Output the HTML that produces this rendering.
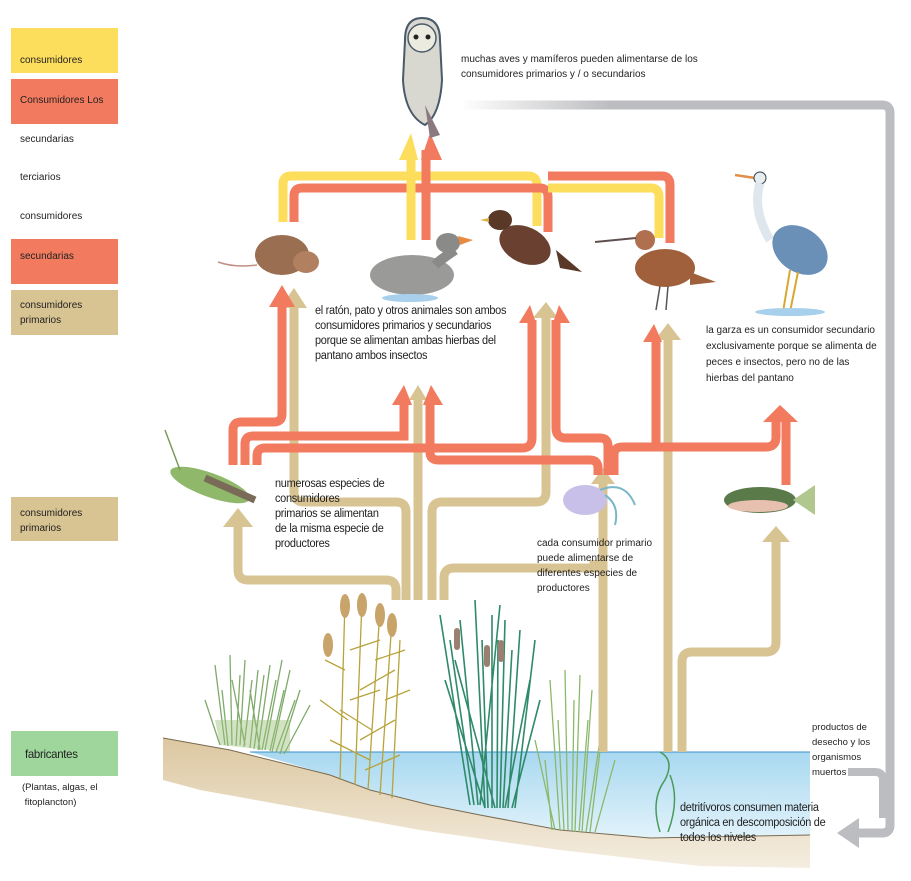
<!DOCTYPE html>
<html><head><meta charset="utf-8">
<style>
body{margin:0;background:#fff;width:911px;height:881px;overflow:hidden;font-family:"Liberation Sans",sans-serif;}
.box{position:absolute;left:11px;width:107px;height:45px;font-size:10px;color:#222;}
.t{position:absolute;font-size:10px;color:#222;line-height:15px;}
.c{position:absolute;font-size:11.5px;color:#222;line-height:15px;letter-spacing:-0.3px;transform:scaleX(0.95);transform-origin:left;}
</style></head><body>
<svg width="911" height="881" style="position:absolute;left:0;top:0">
<defs>
<linearGradient id="g1" x1="0" x2="1"><stop offset="0" stop-color="#fff"/><stop offset="0.35" stop-color="#bcbdc0"/></linearGradient>
<linearGradient id="g2" x1="0" x2="1"><stop offset="0" stop-color="#fff"/><stop offset="0.6" stop-color="#bcbdc0"/></linearGradient>
<linearGradient id="wat" x1="0" y1="0" x2="0" y2="1"><stop offset="0" stop-color="#a8d8f0"/><stop offset="1" stop-color="#e2f3fb"/></linearGradient>
<linearGradient id="snd" x1="0" y1="0" x2="0" y2="1"><stop offset="0" stop-color="#dcc7a0"/><stop offset="1" stop-color="#f4ede0"/></linearGradient>
</defs>
<rect x="11" y="28" width="107" height="45" fill="#fddd5c"/>
<rect x="11" y="79" width="107" height="45" fill="#f27a5e"/>
<rect x="11" y="239" width="107" height="45" fill="#f27a5e"/>
<rect x="11" y="290" width="107" height="45" fill="#d8c393"/>
<rect x="11" y="497" width="107" height="44" fill="#d8c393"/>
<rect x="11" y="731" width="107" height="45" fill="#9fd69c"/>

<path d="M460,105 H882 Q890,105 890,113 V825 Q890,833 882,833 H855" fill="none" stroke="url(#g1)" stroke-width="9"/>
<path d="M830,297 H886" stroke="url(#g2)" stroke-width="8"/>
<path d="M800,530 H886" stroke="url(#g2)" stroke-width="8"/>
<path d="M848,772 H875 Q883,772 883,780 V818" fill="none" stroke="#bcbdc0" stroke-width="8"/>
<polygon points="837,833 859,818 859,848" fill="#bcbdc0"/>

<polygon points="250,752 810,752 810,836 650,838 560,830 480,815 430,805 370,790 330,775" fill="url(#wat)"/>
<line x1="250" y1="752" x2="810" y2="752" stroke="#3a8fc8" stroke-width="1"/>
<polygon points="163,738 230,750 330,775 370,790 430,805 480,815 560,830 650,838 810,835 810,868 700,866 560,850 420,830 300,808 200,790 163,780" fill="url(#snd)"/>
<path d="M163,738 230,750 330,775 370,790 430,805 480,815 560,830 650,838 810,835" fill="none" stroke="#7a6a50" stroke-width="1"/>

<g stroke="#7faa6a" stroke-width="1.3" fill="none">
<path d="M225,745 L215,665 M232,745 L230,655 M240,745 L245,660 M250,748 L258,670 M258,750 L270,665 M265,750 L282,660 M272,752 L290,670 M280,754 L300,690 M245,745 L232,680 M260,750 L250,690 M220,745 L205,700 M228,746 L222,690 M236,746 L240,675 M244,747 L252,680 M254,749 L264,675 M262,750 L276,680 M270,751 L284,690 M276,752 L295,700 M284,754 L310,705"/>
</g>
<path d="M220,745 L290,752 L290,720 L215,720Z" fill="#9cc07a" opacity="0.45"/>
<g stroke="#b7a33b" stroke-width="1.3" fill="none">
<path d="M340,780 L345,600 M355,785 L362,600 M368,790 L380,610 M380,795 L392,620 M392,798 L400,640 M348,720 L320,700 M360,690 L395,670 M372,730 L340,710 M385,700 L410,690 M350,650 L380,640 M370,760 L330,740 M345,670 L325,660 M360,740 L395,720 M375,660 L405,650 M350,700 L380,690 M365,770 L400,755"/>
</g>
<g fill="#c9a46a"><ellipse cx="345" cy="606" rx="5" ry="12"/><ellipse cx="362" cy="605" rx="5" ry="12"/><ellipse cx="380" cy="615" rx="5" ry="12"/><ellipse cx="392" cy="625" rx="5" ry="12"/><ellipse cx="328" cy="645" rx="5" ry="12"/></g>
<g stroke="#2e8a6a" stroke-width="1.6" fill="none">
<path d="M470,805 L440,615 M478,805 L460,620 M485,808 L475,600 M492,808 L492,615 M500,808 L505,620 M508,808 L520,630 M515,808 L535,640 M495,808 L455,660 M505,808 L530,680 M485,808 L445,680 M480,805 L500,605 M474,805 L450,640 M488,808 L482,640 M497,808 L498,640 M503,808 L512,650 M512,808 L540,700"/>
</g>
<g fill="#9a8070"><rect x="454" y="628" width="6" height="22" rx="3"/><rect x="484" y="645" width="6" height="22" rx="3"/><rect x="498" y="640" width="6" height="22" rx="3"/></g>
<g stroke="#8cb86a" stroke-width="1.3" fill="none">
<path d="M560,830 L550,680 M568,830 L565,670 M575,832 L580,675 M582,832 L592,690 M590,832 L605,710 M555,830 L535,740 M595,832 L615,760 M564,830 L558,720 M572,831 L574,700 M579,832 L588,720 M586,832 L600,740 M552,830 L545,760"/>
</g>
<path d="M660,832 Q650,800 665,780 Q675,760 660,752 M668,832 Q680,800 670,775" stroke="#4a9a5a" stroke-width="1.5" fill="none"/>

<g fill="none" stroke-width="9">
<path d="M283,222 V184 Q283,176 291,176 H528 Q537,176 537,185 V226" stroke="#fddd5c"/>
<path d="M294,222 V196 Q294,188 302,188 H540 Q548,188 548,197 V232" stroke="#f27a5e"/>
<path d="M548,176 H662 Q670,176 670,185 V243" stroke="#f27a5e"/>
<path d="M548,188 H651 Q659,188 659,197 V238" stroke="#fddd5c"/>
<path d="M411,240 V150" stroke="#fddd5c"/>
<path d="M426,240 V150" stroke="#f27a5e"/>
</g>
<polygon points="399,160 411,133 418,160" fill="#fddd5c"/>
<polygon points="421,160 430,133 442,160 430,160" fill="#f27a5e"/>

<g fill="none" stroke="#d8c393" stroke-width="9">
<path d="M294,305 V492 Q294,502 304,502 H396 Q406,502 406,512 V600"/>
<path d="M396,600 V590 Q396,580 386,580 H248 Q238,580 238,570 V525"/>
<path d="M418,600 V400"/>
<path d="M432,600 V512 Q432,502 442,502 H536 Q546,502 546,492 V315"/>
<path d="M444,600 V578 Q444,568 454,568 H594 V560"/>
<path d="M603,752 V480"/>
<path d="M668,752 V335"/>
<path d="M682,752 V662 Q682,652 692,652 H766 Q776,652 776,642 V540"/>
</g>
<g fill="#d8c393">
<polygon points="223,527 238,508 253,527"/>
<polygon points="280,308 294,288 307,308"/>
<polygon points="409,400 418,385 427,400"/>
<polygon points="533,318 546,302 558,318"/>
<polygon points="591,484 603,468 615,484"/>
<polygon points="655,340 668,323 681,340"/>
<polygon points="762,542 776,526 790,542"/>
</g>
<g fill="none" stroke="#f27a5e" stroke-width="9">
<path d="M233,465 V430 Q233,422 241,422 H274 Q282,422 282,414 V305"/>
<path d="M245,465 V444 Q245,436 253,436 H404 V400"/>
<path d="M257,465 V456 Q257,448 265,448 H522 Q532,448 532,438 V320"/>
<path d="M430,400 V452 Q430,460 438,460 H590 Q598,460 598,468 V475"/>
<path d="M556,320 V428 Q556,438 566,438 H600 Q608,438 608,446 V475"/>
<path d="M614,475 V455 Q614,447 622,447 H766 Q776,447 776,437 V420"/>
<path d="M656,447 V340"/>
<path d="M786,485 V420"/>
</g>
<g fill="#f27a5e">
<polygon points="269,307 282,285 295,307"/>
<polygon points="392,405 404,385 412,405"/>
<polygon points="423,405 431,385 443,405"/>
<polygon points="519,323 530,305 536,323"/>
<polygon points="553,323 559,305 570,323"/>
<polygon points="643,342 654,324 662,342"/>
<polygon points="763,422 780,405 798,422"/>
</g>

<!-- owl -->
<path d="M405,40 Q405,18 422,18 Q440,18 440,40 L442,80 Q440,115 425,125 Q405,115 403,80 Z" fill="#d8d8d0" stroke="#4a5a6a" stroke-width="2"/>
<circle cx="422" cy="38" r="14" fill="#ecebe0" stroke="#4a5a6a" stroke-width="1.5"/>
<circle cx="416" cy="37" r="2.5" fill="#222"/><circle cx="428" cy="37" r="2.5" fill="#222"/>
<path d="M425,105 L440,135 L430,138 Z" fill="#8a7a80"/>
<!-- mouse -->
<ellipse cx="282" cy="255" rx="27" ry="20" fill="#9a6e50"/>
<ellipse cx="306" cy="262" rx="13" ry="11" fill="#b08060"/>
<path d="M257,265 Q235,268 218,262" stroke="#c09080" stroke-width="1.5" fill="none"/>
<!-- duck -->
<ellipse cx="412" cy="275" rx="42" ry="20" fill="#9a9a98"/>
<ellipse cx="448" cy="243" rx="12" ry="10" fill="#8a8a88"/>
<path d="M455,250 Q440,260 435,265" stroke="#8a8a88" stroke-width="10"/>
<path d="M458,236 L473,240 L460,245Z" fill="#e88a40"/>
<ellipse cx="410" cy="298" rx="28" ry="4" fill="#a8d0ec"/>
<!-- thrush -->
<ellipse cx="525" cy="245" rx="27" ry="18" fill="#6a4030" transform="rotate(25 525 245)"/>
<ellipse cx="500" cy="220" rx="12" ry="10" fill="#5a3828"/>
<path d="M489,218 L480,220 L489,222Z" fill="#d8b040"/>
<path d="M556,250 L582,272 L560,268Z" fill="#5a3828"/>
<!-- snipe -->
<ellipse cx="665" cy="268" rx="30" ry="19" fill="#a0603c"/>
<ellipse cx="645" cy="240" rx="10" ry="10" fill="#b07050"/>
<path d="M636,238 L595,242" stroke="#605050" stroke-width="2"/>
<path d="M690,272 L716,282 L690,285Z" fill="#a0603c"/>
<path d="M660,286 L656,310 M668,286 L666,310" stroke="#555" stroke-width="1.5"/>
<!-- heron -->
<path d="M735,175 L755,178" stroke="#e0904a" stroke-width="2.5"/>
<circle cx="760" cy="178" r="6" fill="#e8eef0" stroke="#304050"/>
<path d="M760,183 Q752,210 770,240" stroke="#dfe6ee" stroke-width="9" fill="none"/>
<ellipse cx="800" cy="250" rx="30" ry="22" fill="#6a90b8" transform="rotate(35 800 250)"/>
<path d="M790,270 L783,312 M798,272 L790,312" stroke="#d8a830" stroke-width="2"/>
<ellipse cx="790" cy="312" rx="35" ry="4" fill="#a8d0ec"/>
<!-- grasshopper -->
<ellipse cx="210" cy="485" rx="42" ry="12" fill="#8fb86a" transform="rotate(20 210 485)"/>
<path d="M205,478 L255,500" stroke="#7a6a58" stroke-width="7"/>
<path d="M180,470 L165,430" stroke="#7a9a5a" stroke-width="1.5"/>
<!-- copepod -->
<ellipse cx="585" cy="500" rx="22" ry="15" fill="#c8c0e8"/>
<path d="M600,490 Q625,480 635,505 M605,495 Q620,505 615,525" stroke="#7ab8c8" stroke-width="2" fill="none"/>
<!-- fish -->
<ellipse cx="760" cy="500" rx="36" ry="13" fill="#5a7a4a"/>
<ellipse cx="758" cy="506" rx="30" ry="6" fill="#e8c0b0"/>
<polygon points="793,500 815,485 815,515" fill="#b0c890"/>
</svg>

<div class="box" style="top:55px;left:20px">consumidores</div>
<div class="box" style="top:95px;left:20px;width:100px">Consumidores Los</div>
<div class="t" style="left:20px;top:132px">secundarias</div>
<div class="t" style="left:20px;top:170px">terciarios</div>
<div class="t" style="left:20px;top:209px">consumidores</div>
<div class="t" style="left:20px;top:249px">secundarias</div>
<div class="t" style="left:20px;top:298px">consumidores<br>primarios</div>
<div class="t" style="left:20px;top:506px">consumidores<br>primarios</div>
<div class="c" style="left:25px;top:747px;font-size:12px">fabricantes</div>
<div class="t" style="left:22px;top:780px;font-size:9.5px">(Plantas, algas, el<br>&nbsp;fitoplancton)</div>

<div class="t" style="left:461px;top:52px;line-height:15px">muchas aves y mamíferos pueden alimentarse de los<br>consumidores primarios y / o secundarios</div>
<div class="c" style="left:315px;top:304px">el ratón, pato y otros animales son ambos<br>consumidores primarios y secundarios<br>porque se alimentan ambas hierbas del<br>pantano ambos insectos</div>
<div class="t" style="left:706px;top:323px;line-height:16px">la garza es un consumidor secundario<br>exclusivamente porque se alimenta de<br>peces e insectos, pero no de las<br>hierbas del pantano</div>
<div class="c" style="left:275px;top:477px">numerosas especies de<br>consumidores<br>primarios se alimentan<br>de la misma especie de<br>productores</div>
<div class="t" style="left:537px;top:536px;line-height:15px">cada consumidor primario<br>puede alimentarse de<br>diferentes especies de<br>productores</div>
<div class="t" style="left:812px;top:720px;line-height:15px;font-size:9.5px">productos de<br>desecho y los<br>organismos<br>muertos</div>
<div class="c" style="left:680px;top:801px">detritívoros consumen materia<br>orgánica en descomposición de<br>todos los niveles</div>
</body></html>
